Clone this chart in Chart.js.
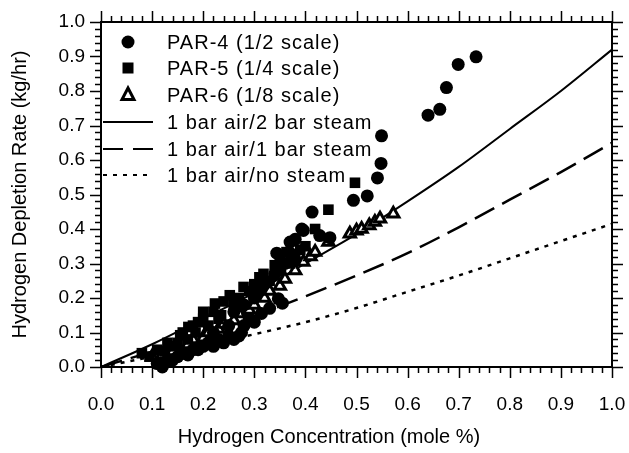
<!DOCTYPE html>
<html>
<head>
<meta charset="utf-8">
<script src="https://cdn.jsdelivr.net/npm/chart.js@4.4.1/dist/chart.umd.min.js"></script>
<style>
html, body { margin: 0; padding: 0; background: #fff; }
#wrap { width: 629px; height: 453px; }
</style>
</head>
<body>
<div id="wrap"><canvas id="depletionChart" width="629" height="453"></canvas></div>
<script>
// PAR-4 (1/2 scale) - circles
const par4X = [0.11, 0.12, 0.13, 0.14, 0.15, 0.16, 0.17, 0.18, 0.19, 0.20, 0.21, 0.22, 0.22, 0.23, 0.24, 0.25, 0.25, 0.26, 0.26, 0.27, 0.275, 0.28, 0.28, 0.29, 0.30, 0.30, 0.31, 0.314, 0.32, 0.33, 0.34, 0.344, 0.347, 0.35, 0.355, 0.36, 0.37, 0.37, 0.38, 0.38, 0.393, 0.396, 0.413, 0.428, 0.448, 0.494, 0.521, 0.541, 0.548, 0.549, 0.64, 0.663, 0.676, 0.699, 0.734];
const par4Y = [0.01, 0.00, 0.02, 0.02, 0.03, 0.04, 0.035, 0.05, 0.05, 0.06, 0.07, 0.06, 0.10, 0.08, 0.07, 0.09, 0.12, 0.08, 0.16, 0.09, 0.10, 0.12, 0.18, 0.14, 0.13, 0.20, 0.22, 0.155, 0.24, 0.17, 0.27, 0.33, 0.198, 0.28, 0.185, 0.30, 0.362, 0.33, 0.37, 0.31, 0.40, 0.396, 0.449, 0.381, 0.375, 0.483, 0.496, 0.548, 0.59, 0.67, 0.73, 0.747, 0.81, 0.877, 0.899];

// PAR-5 (1/4 scale) - squares
const par5X = [0.08, 0.095, 0.11, 0.125, 0.13, 0.14, 0.15, 0.155, 0.16, 0.17, 0.171, 0.18, 0.185, 0.19, 0.20, 0.20, 0.21, 0.22, 0.223, 0.23, 0.235, 0.24, 0.252, 0.26, 0.27, 0.279, 0.29, 0.30, 0.31, 0.318, 0.33, 0.34, 0.35, 0.363, 0.37, 0.38, 0.39, 0.40, 0.419, 0.445, 0.497];
const par5Y = [0.04, 0.03, 0.05, 0.045, 0.07, 0.06, 0.07, 0.092, 0.10, 0.08, 0.116, 0.12, 0.10, 0.13, 0.16, 0.14, 0.12, 0.16, 0.184, 0.14, 0.15, 0.19, 0.208, 0.18, 0.20, 0.232, 0.22, 0.24, 0.26, 0.27, 0.25, 0.295, 0.31, 0.333, 0.30, 0.32, 0.34, 0.35, 0.40, 0.456, 0.534];

// PAR-6 (1/8 scale) - triangles
const par6X = [0.10, 0.12, 0.14, 0.15, 0.17, 0.18, 0.20, 0.21, 0.23, 0.24, 0.26, 0.27, 0.29, 0.30, 0.32, 0.33, 0.35, 0.36, 0.38, 0.396, 0.41, 0.419, 0.445, 0.487, 0.50, 0.51, 0.525, 0.536, 0.546, 0.572];
const par6Y = [0.03, 0.035, 0.045, 0.06, 0.065, 0.08, 0.085, 0.10, 0.11, 0.125, 0.135, 0.155, 0.165, 0.18, 0.20, 0.22, 0.235, 0.255, 0.28, 0.304, 0.32, 0.333, 0.362, 0.386, 0.395, 0.40, 0.41, 0.42, 0.43, 0.444];

// model curves
const curveX = [0, 0.1, 0.2, 0.3, 0.4, 0.5, 0.6, 0.7, 0.8, 0.9, 1.0];
const steam2Y = [0, 0.066, 0.14, 0.215, 0.30, 0.385, 0.48, 0.58, 0.69, 0.80, 0.92];
const steam1Y = [0, 0.045, 0.095, 0.148, 0.205, 0.265, 0.33, 0.405, 0.485, 0.565, 0.65];
const noSteamY = [0, 0.03, 0.062, 0.095, 0.13, 0.171, 0.218, 0.265, 0.315, 0.365, 0.415];

const tickLabels = ['0.0', '0.1', '0.2', '0.3', '0.4', '0.5', '0.6', '0.7', '0.8', '0.9', '1.0'];

const legendItems = ['PAR-4 (1/2 scale)', 'PAR-5 (1/4 scale)', 'PAR-6 (1/8 scale)',
    '1 bar air/2 bar steam', '1 bar air/1 bar steam', '1 bar air/no steam'];

const FONT = '"Liberation Sans", Arial, Helvetica, sans-serif';

function toPoints(xs, ys) {
    return xs.map((x, i) => ({x: x, y: ys[i]}));
}

const axisFrame = {
    id: 'axisFrame',
    afterDraw(chart) {
        const {ctx, chartArea: a, scales: {x, y}} = chart;
        ctx.save();
        ctx.strokeStyle = '#000';
        ctx.lineWidth = 2;
        ctx.strokeRect(a.left, a.top, a.right - a.left, a.bottom - a.top);
        ctx.lineWidth = 1.5;
        ctx.beginPath();
        for (let i = 0; i <= 50; i++) {
            const len = i % 5 === 0 ? 11 : 6;
            const px = Math.round(x.getPixelForValue(i / 50)) + 0.5;
            const py = Math.round(y.getPixelForValue(i / 50)) + 0.5;
            ctx.moveTo(px, a.bottom); ctx.lineTo(px, a.bottom + len);
            ctx.moveTo(px, a.top); ctx.lineTo(px, a.top - len);
            ctx.moveTo(a.left, py); ctx.lineTo(a.left - len, py);
            ctx.moveTo(a.right, py); ctx.lineTo(a.right + len, py);
        }
        ctx.stroke();

        // x axis title
        ctx.fillStyle = '#000';
        ctx.font = '20px ' + FONT;
        ctx.textAlign = 'center';
        ctx.textBaseline = 'middle';
        ctx.fillText('Hydrogen Concentration (mole %)', 329, 437);

        // legend
        ctx.textAlign = 'left';
        ctx.letterSpacing = '1px';
        const symX = 128, textX = 167;
        const rows = [42, 68, 95, 122, 149, 175];
        legendItems.forEach((label, i) => {
            ctx.fillText(label, textX, rows[i] + 1);
        });
        ctx.letterSpacing = '0px';
        ctx.beginPath();
        ctx.arc(symX, rows[0], 6.5, 0, Math.PI * 2);
        ctx.fill();
        ctx.fillRect(symX - 5.5, rows[1] - 5.5, 11, 11);
        ctx.beginPath();
        ctx.moveTo(symX, rows[2] - 7);
        ctx.lineTo(symX + 6, rows[2] + 4.5);
        ctx.lineTo(symX - 6, rows[2] + 4.5);
        ctx.closePath();
        ctx.fillStyle = '#fff';
        ctx.fill();
        ctx.lineWidth = 3;
        ctx.stroke();
        const dashes = [[], [20, 10], [4, 6]];
        dashes.forEach((d, i) => {
            ctx.setLineDash(d);
            ctx.lineWidth = 2;
            ctx.beginPath();
            ctx.moveTo(103, rows[3 + i]);
            ctx.lineTo(153, rows[3 + i]);
            ctx.stroke();
        });
        ctx.restore();
    }
};

const ctx = document.getElementById('depletionChart');
new Chart(ctx, {
    type: 'scatter',
    data: {
        datasets: [{
            label: legendItems[5],
            data: toPoints(curveX, noSteamY),
            showLine: true,
            borderColor: '#000',
            borderWidth: 2.5,
            borderDash: [4, 6],
            pointRadius: 0,
            cubicInterpolationMode: 'monotone',
            order: 6
        }, {
            label: legendItems[4],
            data: toPoints(curveX, steam1Y),
            showLine: true,
            borderColor: '#000',
            borderWidth: 2.5,
            borderDash: [22, 9],
            pointRadius: 0,
            cubicInterpolationMode: 'monotone',
            order: 5
        }, {
            label: legendItems[3],
            data: toPoints(curveX, steam2Y),
            showLine: true,
            borderColor: '#000',
            borderWidth: 2,
            pointRadius: 0,
            cubicInterpolationMode: 'monotone',
            order: 4
        }, {
            label: legendItems[0],
            data: toPoints(par4X, par4Y),
            pointStyle: 'circle',
            pointRadius: 6.5,
            backgroundColor: '#000',
            borderColor: '#000',
            borderWidth: 0,
            clip: false,
            order: 1
        }, {
            label: legendItems[1],
            data: toPoints(par5X, par5Y),
            pointStyle: 'rect',
            pointRadius: 7.5,
            backgroundColor: '#000',
            borderColor: '#000',
            borderWidth: 0,
            clip: false,
            order: 2
        }, {
            label: legendItems[2],
            data: toPoints(par6X, par6Y),
            pointStyle: 'triangle',
            pointRadius: 6.5,
            backgroundColor: '#fff',
            borderColor: '#000',
            borderWidth: 3,
            clip: false,
            order: 3
        }]
    },
    options: {
        responsive: false,
        animation: false,
        devicePixelRatio: 1,
        layout: {
            padding: {top: 22, right: 17, left: 0, bottom: 0}
        },
        plugins: {
            legend: {display: false},
            tooltip: {enabled: false}
        },
        scales: {
            x: {
                type: 'linear',
                min: 0,
                max: 1,
                grid: {display: false, drawTicks: false},
                border: {display: false},
                ticks: {
                    stepSize: 0.1,
                    padding: 26,
                    maxRotation: 0,
                    autoSkip: false,
                    color: '#000',
                    font: {family: FONT, size: 19},
                    callback: (v, i) => tickLabels[i]
                },
                afterFit: scale => {
                    scale.height = 86;
                    // keep the tick padding from widening the side margins
                    scale.paddingLeft = 0;
                    scale.paddingRight = 13;
                }
            },
            y: {
                type: 'linear',
                min: 0,
                max: 1,
                grid: {display: false, drawTicks: false},
                border: {display: false},
                ticks: {
                    stepSize: 0.1,
                    padding: 16,
                    autoSkip: false,
                    color: '#000',
                    font: {family: FONT, size: 19},
                    callback: (v, i) => tickLabels[i]
                },
                title: {
                    display: true,
                    text: 'Hydrogen Depletion Rate (kg/hr)',
                    color: '#000',
                    font: {family: FONT, size: 20},
                    padding: {top: 8, bottom: 0}
                },
                afterFit: scale => {
                    scale.width = 101;
                    scale.paddingTop = 0;
                    scale.paddingBottom = 0;
                }
            }
        }
    },
    plugins: [axisFrame]
});
</script>
</body>
</html>
